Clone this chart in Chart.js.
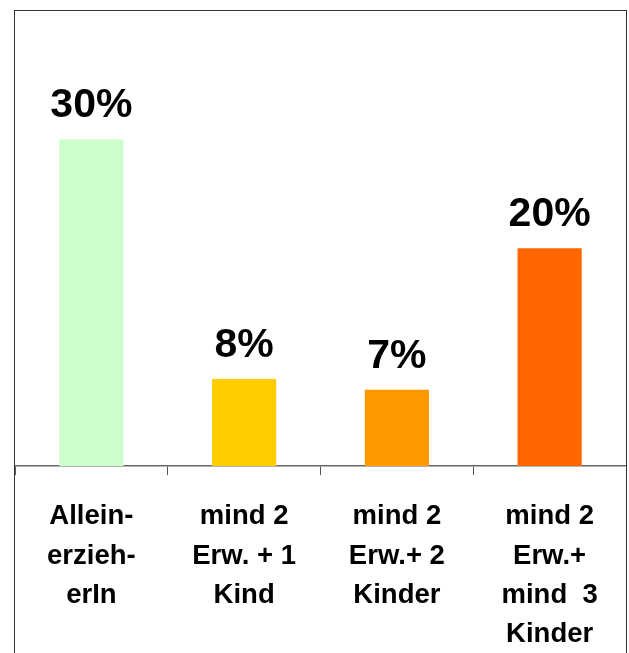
<!DOCTYPE html>
<html>
<head>
<meta charset="utf-8">
<script src="https://cdn.jsdelivr.net/npm/chart.js@4/dist/chart.umd.min.js"></script>
<style>
    html, body { margin: 0; padding: 0; background: #fff; }
    #frame {
        position: absolute;
        left: 14px;
        top: 10px;
        width: 611px;
        height: 660px;
        border: 1px solid #333;
        border-bottom: none;
    }
    #chart-box { position: absolute; left: 0; top: 0; width: 611px; height: 643px; }
</style>
</head>
<body>
<div id="frame">
    <div id="chart-box"><canvas id="household-chart"></canvas></div>
</div>
<script>
    const categories = [
        ["Allein-", "erzieh-", "erIn"],
        ["mind 2", "Erw. + 1", "Kind"],
        ["mind 2", "Erw.+ 2", "Kinder"],
        ["mind 2", "Erw.+", "mind  3", "Kinder"]
    ];
    const shares = [30, 8, 7, 20];
    const barColors = ["#CCFFCC", "#FFCC00", "#FF9900", "#FF6600"];

    const fontFamily = "'Liberation Sans', Arial, sans-serif";

    // percent labels above each bar
    const valueLabels = {
        id: "valueLabels",
        afterDatasetsDraw(chart) {
            const ctx = chart.ctx;
            const meta = chart.getDatasetMeta(0);
            ctx.save();
            ctx.font = "bold 41px " + fontFamily;
            ctx.fillStyle = "#000";
            ctx.textAlign = "center";
            ctx.textBaseline = "alphabetic";
            meta.data.forEach((bar, i) => {
                ctx.fillText(shares[i] + "%", bar.x, bar.y - 22);
            });
            ctx.restore();
        }
    };

    new Chart(document.getElementById("household-chart"), {
        type: "bar",
        data: {
            labels: categories,
            datasets: [{
                data: shares,
                backgroundColor: barColors,
                borderWidth: 0,
                barPercentage: 0.42,
                categoryPercentage: 1
            }]
        },
        options: {
            responsive: true,
            maintainAspectRatio: false,
            animation: false,
            layout: { padding: 0 },
            plugins: {
                legend: { display: false },
                tooltip: { enabled: false }
            },
            scales: {
                x: {
                    offset: true,
                    afterFit(scale) { scale.height = 188; },
                    grid: {
                        offset: true,
                        drawOnChartArea: false,
                        drawTicks: true,
                        tickLength: 9,
                        color: "#555",
                        lineWidth: 1
                    },
                    border: { display: true, color: "#666", width: 1.5 },
                    ticks: {
                        color: "#000",
                        padding: 22,
                        maxRotation: 0,
                        autoSkip: false,
                        font: { family: fontFamily, size: 27.5, weight: "bold", lineHeight: 1.43 }
                    }
                },
                y: {
                    display: false,
                    min: 0,
                    max: 41.8
                }
            }
        },
        plugins: [valueLabels]
    });
</script>
</body>
</html>
